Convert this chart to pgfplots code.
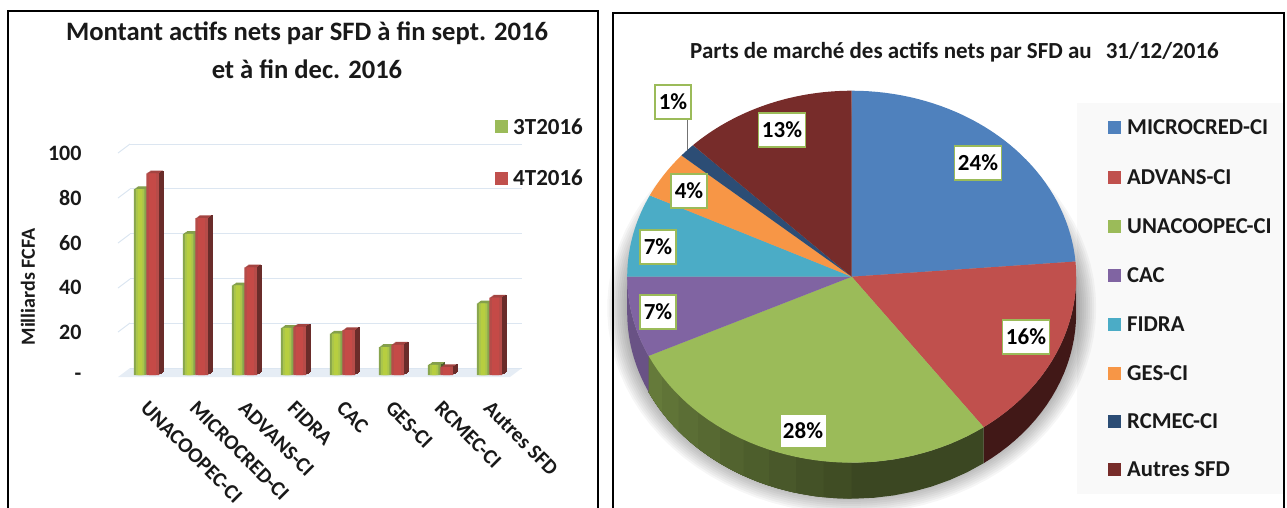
\documentclass[border=0pt]{standalone}
\usepackage{pgfplots}
\usepackage{pgfplotstable}
\usepackage{fontspec}
\pgfplotsset{compat=1.18}
\setmainfont{Carlito}
\pgfplotstableread{
i a b
0 83 90
1 63 70
2 40 48
3 21 21.5
4 18.5 20
5 12.5 13.5
6 4.5 3.5
7 32 34.5
}\bars
\definecolor{cblue}{HTML}{4F81BD}
\definecolor{cred}{HTML}{C0504D}
\definecolor{cgreen}{HTML}{9BBB59}
\definecolor{cpurple}{HTML}{8064A2}
\definecolor{ccyan}{HTML}{4BACC6}
\definecolor{corange}{HTML}{F79646}
\definecolor{cnavy}{HTML}{2C4D75}
\definecolor{cmaroon}{HTML}{772C2A}
\definecolor{gridc}{HTML}{DCE6F1}
% pie slice: from #1 % to #2 %
\newcommand{\slice}[3]{\addplot[fill=#3,draw=none,domain=-1:41,samples=43,variable=\s]
 ({851.7+((\s>-0.5&&\s<40.5)?224.5*sin(3.6*(#1+(#2-#1)*\s/40)):0)},
  {276.7-((\s>-0.5&&\s<40.5)?186*cos(3.6*(#1+(#2-#1)*\s/40)):0)});}
% side wall of the pie
\newcommand{\wall}[3]{\addplot[fill=#3,draw=none,domain=0:41,samples=42,variable=\s]
 ({851.7+224.5*sin(3.6*(\s<20.5?(#1+(#2-#1)*\s/20):(#2-(#2-#1)*(\s-21)/20)))},
  {276.7-186*cos(3.6*(\s<20.5?(#1+(#2-#1)*\s/20):(#2-(#2-#1)*(\s-21)/20)))+(\s<20.5?0:36)});}
\newcommand{\shadowlayer}[1]{\addplot[fill=black,fill opacity=0.035,draw=none,domain=0:360,samples=90,variable=\t]
 ({851.7+(224.5+#1)*cos(\t)},{308+(186+#1)*sin(\t)});}
\newcommand{\pct}[3]{\node[draw=cgreen,line width=1.3pt,fill=white,font=\bfseries\fontsize{23}{23}\selectfont,inner sep=0pt,minimum width=#3pt,minimum height=34pt,text=black] at (#1) {#2};}
\newcommand{\legitem}[3]{\addplot[fill=#2,draw=none] coordinates {(1108,#1-6.5) (1121,#1-6.5) (1121,#1+6.5) (1108,#1+6.5)};
 \node[anchor=west,inner sep=0pt,font=\bfseries\fontsize{22.7}{23}\selectfont,text=black!90] at (1127,#1) {#3};}
% 3D depth of a bar
\newcommand{\topface}[5]{\addplot[ybar,bar width=12.5pt,bar shift=#4pt,fill=#5,draw=none,xshift=#1pt,yshift=#2pt,forget plot] table[x=i,y=#3] {\bars};}
\newcommand{\sideface}[5]{\addplot[ycomb,line width=1.4pt,color=#5,xshift=#1pt+#4pt,yshift=#2pt,forget plot,mark=none] table[x=i,y=#3] {\bars};}
\newcommand{\face}[4]{\addplot[ybar,bar width=#2pt,bar shift=#3pt,draw=none,fill=#4,forget plot] table[x=i,y=#1] {\bars};}
\begin{document}
\begin{tikzpicture}[x=1pt,y=1pt]
\useasboundingbox (0,0) rectangle (1287pt,507pt);
\clip (0,0) rectangle (1287pt,507pt);
% canvas: pixel coordinates
\begin{axis}[at={(0pt,0pt)},anchor=south west,scale only axis,width=1287pt,height=507pt,
 xmin=0,xmax=1287,ymin=0,ymax=507,y dir=reverse,hide axis,clip=false]
 % frames
 \addplot[black,line width=1.8pt] coordinates {(8,510) (8,11) (598,11) (598,510)};
 \addplot[black,line width=1.8pt] coordinates {(613,510) (613,13) (1284,13) (1284,510)};
 % left panel texts
 \node[font=\bfseries\fontsize{26.6}{27}\selectfont,text=black!90] at (307,33) {Montant actifs nets par SFD à fin sept. 2016};
 \node[font=\bfseries\fontsize{26.6}{27}\selectfont,text=black!90] at (307,69) {et à fin dec. 2016};
 \node[rotate=90,font=\bfseries\fontsize{20}{20}\selectfont,text=black!90] at (28,287) {Milliards FCFA};
 % left legend
 \addplot[fill=cgreen,draw=none] coordinates {(495,120) (508,120) (508,133) (495,133)};
 \addplot[fill=cred,draw=none] coordinates {(495,172) (508,172) (508,185) (495,185)};
 \node[anchor=west,inner sep=0pt,font=\bfseries\fontsize{23}{23}\selectfont,text=black!90] at (513,127) {3T2016};
 \node[anchor=west,inner sep=0pt,font=\bfseries\fontsize{23}{23}\selectfont,text=black!90] at (513,178) {4T2016};
 % floor and wall ticks
 \addplot[fill=gridc!70,draw=none] coordinates {(118,377) (130,368) (522,368) (510,377)};
 \addplot[gridc,line width=1pt] coordinates {(118,153) (130,144)};
 \addplot[gridc,line width=1pt] coordinates {(118,198) (130,189)};
 \addplot[gridc,line width=1pt] coordinates {(118,243) (130,234)};
 \addplot[gridc,line width=1pt] coordinates {(118,288) (130,279)};
 \addplot[gridc,line width=1pt] coordinates {(118,332) (130,323)};
 % right panel
 \node[anchor=west,inner sep=0pt,font=\bfseries\fontsize{23}{23}\selectfont,text=black!90] at (690,52) {Parts de marché des actifs nets par SFD au\hspace{14pt}31/12/2016};
 \addplot[fill=black!2.5,draw=none] coordinates {(1077,103) (1283,103) (1283,494) (1077,494)};
 \shadowlayer{2}\shadowlayer{4}\shadowlayer{6}\shadowlayer{8}\shadowlayer{10}
 \shadowlayer{12}\shadowlayer{14}\shadowlayer{16}\shadowlayer{18}\shadowlayer{20}
 % pie walls
 \wall{25}{40}{cmaroon!55!black}
 \wall{40}{68}{cgreen!38!black}
 \wall{50}{68}{cgreen!41!black}
 \wall{52}{68}{cgreen!44!black}
 \wall{54}{68}{cgreen!47!black}
 \wall{56}{68}{cgreen!50!black}
 \wall{58}{68}{cgreen!53!black}
 \wall{60}{68}{cgreen!56!black}
 \wall{62}{68}{cgreen!59!black}
 \wall{64}{68}{cgreen!62!black}
 \wall{66}{68}{cgreen!65!black}
 \wall{68}{75}{cpurple!82!black}
 % pie top: shares in percent, clockwise from the top
 \slice{0}{23.7}{cblue}
 \slice{23.7}{40}{cred}
 \slice{40}{68}{cgreen}
 \slice{68}{75}{cpurple}
 \slice{75}{82.2}{ccyan}
 \slice{82.2}{86.3}{corange}
 \slice{86.3}{87.5}{cnavy}
 \slice{87.5}{100}{cmaroon}
 \addplot[black!55,line width=0.9pt] coordinates {(687,119) (687,150)};
 \pct{978,163}{24\%}{47}
 \pct{1026,337}{16\%}{47}
 \node[fill=white,font=\bfseries\fontsize{23}{23}\selectfont,inner sep=0pt,minimum width=45pt,minimum height=32pt,text=black] at (803,431) {28\%};
 \pct{658,247}{7\%}{36}
 \pct{658,312}{7\%}{36}
 \pct{689,191}{4\%}{36}
 \pct{673,102}{1\%}{36}
 \pct{782,130}{13\%}{47}
 \legitem{127}{cblue}{MICROCRED-CI}
 \legitem{177}{cred}{ADVANS-CI}
 \legitem{226}{cgreen}{UNACOOPEC-CI}
 \legitem{275}{cpurple}{CAC}
 \legitem{324}{ccyan}{FIDRA}
 \legitem{373}{corange}{GES-CI}
 \legitem{421}{cnavy}{RCMEC-CI}
 \legitem{469}{cmaroon}{Autres SFD}
\end{axis}
% back wall gridlines
\begin{axis}[at={(130pt,139pt)},anchor=south west,scale only axis,width=392pt,height=224pt,
 xmin=0,xmax=1,ymin=0,ymax=100,ytick={0,20,40,60,80,100},xtick=\empty,yticklabels={},
 ymajorgrids,grid style={gridc,line width=1pt},axis line style={draw=none},major tick length=0pt]
\end{axis}
% bars
\begin{axis}[at={(118pt,132pt)},anchor=south west,scale only axis,width=404pt,height=224pt,
 xmin=-0.58,xmax=7.665,ymin=0,ymax=100,clip=false,axis line style={draw=none},major tick length=0pt,
 ytick={0,20,40,60,80,100},yticklabels={-\hspace{9pt},20,40,60,80,100},
 xtick={0,...,7},xticklabels={UNACOOPEC-CI,MICROCRED-CI,ADVANS-CI,FIDRA,CAC,GES-CI,RCMEC-CI,Autres SFD},
 /pgf/number format/assume math mode=true,
 yticklabel style={font=\bfseries\fontsize{22}{22}\selectfont,text=black!90,anchor=east,xshift=-33pt,yshift=-2pt},
 xticklabel style={font=\fontsize{21}{21}\selectfont\bfseries,text=black!90,rotate=-45,anchor=north west,xshift=16pt,yshift=-12pt}]
 \topface{4}{2.8}{a}{-6.25}{cgreen!85!black}\topface{3}{2.1}{a}{-6.25}{cgreen!85!black}\topface{2}{1.4}{a}{-6.25}{cgreen!85!black}\topface{1}{0.7}{a}{-6.25}{cgreen!85!black}
 \sideface{4}{2.8}{a}{0}{cgreen!50!black}\sideface{3}{2.1}{a}{0}{cgreen!50!black}\sideface{2}{1.4}{a}{0}{cgreen!50!black}\sideface{1}{0.7}{a}{0}{cgreen!50!black}
 \face{a}{12.5}{-6.25}{cgreen!88!black}
 \face{a}{8.5}{-6.25}{cgreen!85!yellow}
 \face{a}{4.5}{-6.25}{cgreen!72!yellow}
 \topface{4}{2.8}{b}{6.25}{cred!85!black}\topface{3}{2.1}{b}{6.25}{cred!85!black}\topface{2}{1.4}{b}{6.25}{cred!85!black}\topface{1}{0.7}{b}{6.25}{cred!85!black}
 \sideface{4}{2.8}{b}{12.5}{cred!55!black}\sideface{3}{2.1}{b}{12.5}{cred!55!black}\sideface{2}{1.4}{b}{12.5}{cred!55!black}\sideface{1}{0.7}{b}{12.5}{cred!55!black}
 \face{b}{12.5}{6.25}{cred!95!black}
 \face{b}{7}{6.25}{cred!92!red}
\end{axis}
\end{tikzpicture}
\end{document}
